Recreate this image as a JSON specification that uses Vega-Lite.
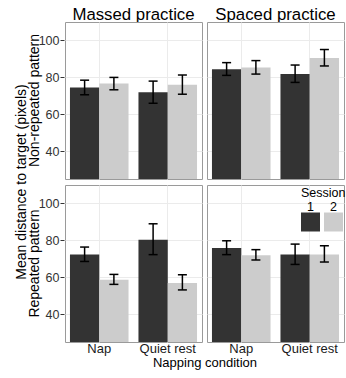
{
  "$schema": "https://vega.github.io/schema/vega-lite/v6.json",
  "padding": {"left": 14, "top": 7, "right": 0, "bottom": 0},
  "background": "white",
  "config": {
    "font": "Liberation Sans",
    "view": {"stroke": "#9a9a9a", "strokeWidth": 1}
  },
  "data": {"values": [
    {"practice": "Massed practice", "pattern": "Non-repeated pattern", "condition": "Nap", "session": "1", "mean": 74.6, "lo": 70.6, "hi": 78.5},
    {"practice": "Massed practice", "pattern": "Non-repeated pattern", "condition": "Nap", "session": "2", "mean": 76.7, "lo": 73.3, "hi": 80.0},
    {"practice": "Massed practice", "pattern": "Non-repeated pattern", "condition": "Quiet rest", "session": "1", "mean": 72.0, "lo": 66.0, "hi": 78.0},
    {"practice": "Massed practice", "pattern": "Non-repeated pattern", "condition": "Quiet rest", "session": "2", "mean": 76.0, "lo": 70.9, "hi": 81.3},
    {"practice": "Spaced practice", "pattern": "Non-repeated pattern", "condition": "Nap", "session": "1", "mean": 84.4, "lo": 81.1, "hi": 88.0},
    {"practice": "Spaced practice", "pattern": "Non-repeated pattern", "condition": "Nap", "session": "2", "mean": 85.3, "lo": 81.8, "hi": 89.1},
    {"practice": "Spaced practice", "pattern": "Non-repeated pattern", "condition": "Quiet rest", "session": "1", "mean": 81.8, "lo": 77.3, "hi": 86.7},
    {"practice": "Spaced practice", "pattern": "Non-repeated pattern", "condition": "Quiet rest", "session": "2", "mean": 90.5, "lo": 86.2, "hi": 95.1},
    {"practice": "Massed practice", "pattern": "Repeated pattern", "condition": "Nap", "session": "1", "mean": 72.4, "lo": 68.6, "hi": 76.4},
    {"practice": "Massed practice", "pattern": "Repeated pattern", "condition": "Nap", "session": "2", "mean": 58.7, "lo": 56.2, "hi": 61.6},
    {"practice": "Massed practice", "pattern": "Repeated pattern", "condition": "Quiet rest", "session": "1", "mean": 80.4, "lo": 72.3, "hi": 89.0},
    {"practice": "Massed practice", "pattern": "Repeated pattern", "condition": "Quiet rest", "session": "2", "mean": 56.9, "lo": 53.2, "hi": 61.4},
    {"practice": "Spaced practice", "pattern": "Repeated pattern", "condition": "Nap", "session": "1", "mean": 75.9, "lo": 72.3, "hi": 79.8},
    {"practice": "Spaced practice", "pattern": "Repeated pattern", "condition": "Nap", "session": "2", "mean": 71.9, "lo": 69.4, "hi": 75.0},
    {"practice": "Spaced practice", "pattern": "Repeated pattern", "condition": "Quiet rest", "session": "1", "mean": 72.4, "lo": 67.0, "hi": 78.0},
    {"practice": "Spaced practice", "pattern": "Repeated pattern", "condition": "Quiet rest", "session": "2", "mean": 72.4, "lo": 68.3, "hi": 77.1}
  ]},
  "facet": {
    "row": {
      "field": "pattern", "type": "nominal",
      "sort": ["Non-repeated pattern", "Repeated pattern"],
      "header": {
        "title": "Mean distance to target (pixels)",
        "titleOrient": "left", "titleAngle": -90, "titleFontSize": 14, "titleFontWeight": "normal",
        "titleColor": "black", "titlePadding": -25,
        "labelOrient": "left", "labelAngle": -90, "labelFontSize": 14, "labelColor": "black", "labelPadding": -11
      }
    },
    "column": {
      "field": "practice", "type": "nominal",
      "sort": ["Massed practice", "Spaced practice"],
      "header": {
        "title": "Napping condition", "titleOrient": "bottom", "titleFontSize": 13, "titleFontWeight": "normal",
        "titleColor": "black", "titlePadding": -8,
        "labelOrient": "top", "labelFontSize": 16.8, "labelColor": "black", "labelPadding": -3
      }
    }
  },
  "spacing": {"row": 4, "column": 3},
  "spec": {
    "width": 137,
    "height": 157,
    "encoding": {
      "x": {
        "field": "condition", "type": "nominal", "sort": ["Nap", "Quiet rest"],
        "scale": {"paddingInner": 0.145, "paddingOuter": 0.0725},
        "axis": {
          "title": null, "labelAngle": 0, "labelFontSize": 13, "labelColor": "#1a1a1a",
          "domain": false, "ticks": false, "tickSize": 0, "labelPadding": -1,
          "grid": true, "bandPosition": 0.5, "gridColor": "#ebebeb", "gridWidth": 1
        }
      },
      "xOffset": {"field": "session", "type": "nominal", "sort": ["1", "2"], "scale": {"paddingInner": 0, "paddingOuter": 0}}
    },
    "layer": [
      {
        "mark": {"type": "bar", "clip": true},
        "encoding": {
          "y": {
            "field": "mean", "type": "quantitative",
            "scale": {"domain": [25, 110], "nice": false},
            "axis": {
              "title": null,
              "values": [40, 60, 80, 100],
              "labelFontSize": 12.5, "labelColor": "#333333", "labelPadding": 1,
              "domain": false, "tickSize": 4, "tickColor": "#333333", "minExtent": 0,
              "grid": true, "gridColor": "#ebebeb", "gridWidth": 1
            }
          },
          "color": {
            "field": "session", "type": "nominal", "sort": ["1", "2"],
            "scale": {"domain": ["1", "2"], "range": ["#333333", "#cccccc"]},
            "legend": {
              "title": "Session", "orient": "none", "legendX": 236, "legendY": 165,
              "direction": "horizontal", "symbolType": "square", "symbolSize": 361,
              "symbolStrokeWidth": 0, "symbolOpacity": 1,
              "titleFontSize": 12.5, "titleFontWeight": "normal", "titleColor": "black", "titlePadding": 13,
              "labelFontSize": 12.5, "labelColor": "black", "labelAlign": "center", "labelOffset": -9.5,
              "columnPadding": 4,
              "encode": {"labels": {"update": {"dy": {"value": -15}}}}
            }
          }
        }
      },
      {
        "mark": {"type": "rule", "color": "black", "strokeWidth": 1.5, "clip": true},
        "encoding": {
          "y": {"field": "lo", "type": "quantitative", "axis": {"title": null}},
          "y2": {"field": "hi"}
        }
      },
      {
        "mark": {"type": "tick", "color": "black", "thickness": 1.5, "size": 9, "orient": "horizontal", "opacity": 1},
        "encoding": {"y": {"field": "lo", "type": "quantitative", "axis": {"title": null}}}
      },
      {
        "mark": {"type": "tick", "color": "black", "thickness": 1.5, "size": 9, "orient": "horizontal", "opacity": 1},
        "encoding": {"y": {"field": "hi", "type": "quantitative", "axis": {"title": null}}}
      }
    ]
  }
}
